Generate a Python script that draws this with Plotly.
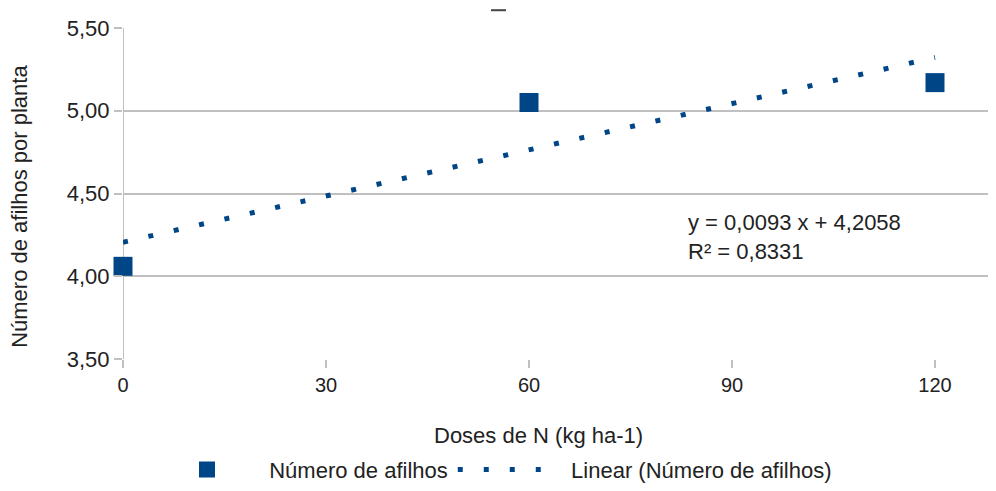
import plotly.graph_objects as go

# Data
doses = [0, 60, 120]
afilhos = [4.06, 5.05, 5.17]
trend_slope = 0.0093
trend_intercept = 4.2058
trend_x = [0, 120]
trend_y = [trend_intercept + trend_slope * x for x in trend_x]
x_ticks = [0, 30, 60, 90, 120]
y_ticks = [3.5, 4.0, 4.5, 5.0, 5.5]

BLUE = "#004586"
GRID = "#c0c0c0"
TXT = "#222222"
FONT = "Liberation Sans, Arial, sans-serif"

# page offset (body margin of the html page)
OFF = 8
W, H = 996, 491
# target plot area on page: x 123..995, y 28..363
ML = 123 - OFF
MT = 28 - OFF
PR = 995 - OFF          # right edge in figure coords
PB = 363 - OFF          # bottom edge in figure coords
MR = W - PR
MB = H - PB
PW = PR - ML
PH = PB - MT

def px_x(p):
    return (p - OFF - ML) / PW

def px_y(p):
    return (PB - (p - OFF)) / PH

NB = "\u00a0"

fig = go.Figure()
fig.add_trace(go.Scatter(
    x=doses, y=afilhos, mode="markers", name=NB * 2 + "Número de afilhos",
    marker=dict(symbol="square", size=19, color=BLUE),
    cliponaxis=False,
))
fig.add_trace(go.Scatter(
    x=trend_x, y=trend_y, mode="lines", name=NB * 3 + "Linear (Número de afilhos)",
    line=dict(color=BLUE, width=5, dash="5px,21px"),
))

fig.update_layout(
    width=W, height=H,
    margin=dict(l=ML, r=MR, t=MT, b=MB),
    paper_bgcolor="white", plot_bgcolor="white",
    separators=", ",
    font=dict(family=FONT, size=22, color=TXT),
    showlegend=True,
    legend=dict(orientation="h", x=px_x(497), xanchor="center",
                y=px_y(475), yanchor="middle", itemwidth=90,
                font=dict(size=22, color=TXT), traceorder="normal"),
    xaxis=dict(range=[0, PW / (812 / 120)], tickvals=x_ticks,
               showgrid=False, zeroline=False, showline=False,
               ticks="outside", ticklen=8, tickcolor=GRID, tickwidth=2,
               tickfont=dict(size=20, color=TXT)),
    yaxis=dict(range=[3.5, 5.5], tickvals=y_ticks, tickformat=".2f",
               showgrid=True, gridcolor=GRID, gridwidth=2,
               zeroline=False, showline=False,
               ticks="outside", ticklen=8, tickcolor=GRID, tickwidth=2,
               tickfont=dict(size=22, color=TXT)),
    shapes=[
        dict(type="line", xref="x", yref="paper", x0=0, x1=0, y0=0, y1=1,
             line=dict(color=GRID, width=2), layer="below"),
        dict(type="line", xref="paper", yref="paper",
             x0=px_x(491), x1=px_x(506), y0=px_y(10), y1=px_y(10),
             line=dict(color="#444444", width=2)),
    ],
    annotations=[
        dict(text="Doses de N (kg ha-1)", xref="paper", yref="paper",
             x=px_x(538), y=px_y(440), xanchor="center", yanchor="middle",
             showarrow=False, font=dict(size=22, color=TXT)),
        dict(text="Número de afilhos por planta", xref="paper", yref="paper",
             x=px_x(20), y=px_y(209), xanchor="center", yanchor="middle",
             textangle=-90, showarrow=False, font=dict(size=22, color=TXT)),
        dict(text="y = 0,0093 x + 4,2058<br>R² = 0,8331", xref="paper", yref="paper",
             x=px_x(686), y=px_y(240), xanchor="left", yanchor="middle",
             align="left", showarrow=False, font=dict(size=22, color=TXT)),
    ],
)

fig.write_html("out.html")
